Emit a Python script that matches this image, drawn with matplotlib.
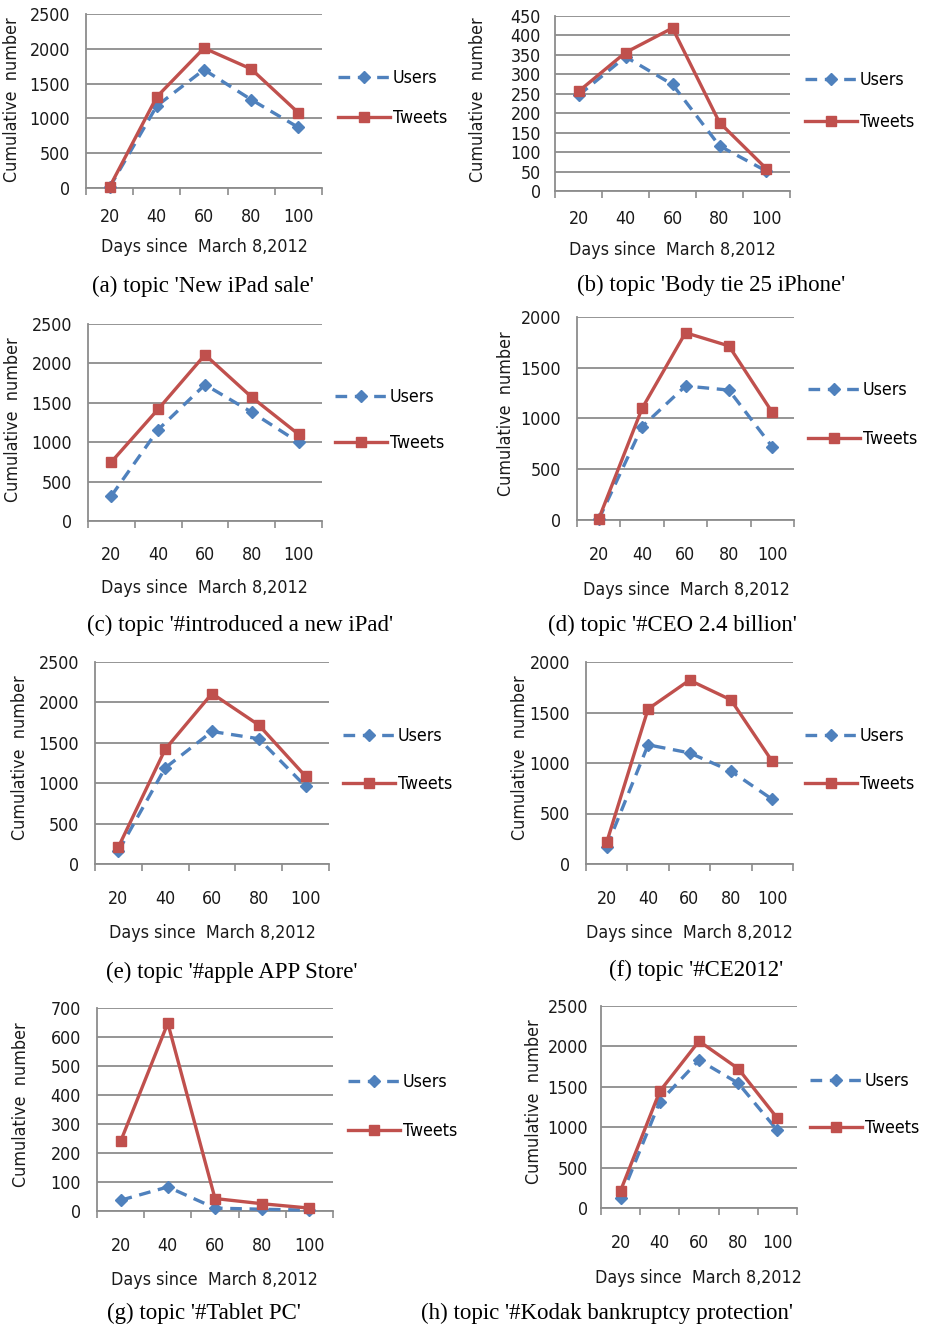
import matplotlib
matplotlib.use("Agg")
import matplotlib.pyplot as plt
import numpy as np
from matplotlib import font_manager

# ---------------- data ----------------
days = ["20", "40", "60", "80", "100"]

a_users = [10, 1180, 1700, 1270, 870]
a_tweets = [15, 1310, 2010, 1710, 1080]
b_users = [246, 345, 274, 116, 51]
b_tweets = [256, 356, 419, 176, 57]
c_users = [320, 1160, 1730, 1380, 1000]
c_tweets = [750, 1420, 2110, 1570, 1100]
d_users = [5, 920, 1320, 1280, 720]
d_tweets = [10, 1100, 1845, 1715, 1060]
e_users = [160, 1190, 1640, 1550, 960]
e_tweets = [210, 1420, 2110, 1720, 1085]
f_users = [170, 1180, 1100, 920, 640]
f_tweets = [215, 1535, 1820, 1625, 1015]
g_users = [37, 83, 10, 6, 3]
g_tweets = [240, 648, 43, 25, 10]
h_users = [125, 1315, 1830, 1545, 960]
h_tweets = [215, 1445, 2065, 1725, 1110]

captions = [
    "(a) topic 'New iPad sale'",
    "(b) topic 'Body tie 25 iPhone'",
    "(c) topic '#introduced a new iPad'",
    "(d) topic '#CEO 2.4 billion'",
    "(e) topic '#apple APP Store'",
    "(f) topic '#CE2012'",
    "(g) topic '#Tablet PC'",
    "(h) topic '#Kodak bankruptcy protection'",
]
y_max = [2500, 450, 2500, 2000, 2500, 2000, 700, 2500]
y_step = [500, 50, 500, 500, 500, 500, 100, 500]
series_labels = ["Users", "Tweets"]
x_label = "Days since  March 8,2012"
y_label = "Cumulative  number"

# ---------------- layout (pixels) ----------------
W, H = 925, 1326
boxes = [  # left, top, right, bottom
    (86, 14, 322, 188),
    (555, 16, 790, 191),
    (88, 324, 322, 521),
    (577, 317, 794, 520),
    (95, 662, 329, 864),
    (586, 662, 793, 864),
    (97, 1008, 333, 1211),
    (601, 1006, 797, 1208),
]
xtick_center = [218, 220, 556, 556, 900, 900, 1247, 1244]
ytick_pad_px = [16, 14, 16, 16, 16, 16, 16, 13]
xlabel_pos = [(204, 247), (672, 250), (204, 588), (686, 590),
              (212, 933), (689, 933), (214, 1280), (698, 1278)]
ylabel_pos = [(12, 100), (478, 100), (13, 420), (506, 414),
              (20, 758), (520, 758), (21, 1105), (534, 1102)]
caption_pos = [(203, 286), (711, 285), (240, 625), (672, 625),
               (232, 972), (696, 970), (204, 1313), (607, 1313)]
legend_pos = [(338, 78, 118), (805, 80, 122), (335, 397, 443), (808, 390, 439),
              (343, 736, 784), (805, 736, 784), (348, 1082, 1131), (810, 1081, 1128)]

users_all = [a_users, b_users, c_users, d_users, e_users, f_users, g_users, h_users]
tweets_all = [a_tweets, b_tweets, c_tweets, d_tweets, e_tweets, f_tweets, g_tweets, h_tweets]

# ---------------- style ----------------
fonts = font_manager.fontManager.ttflist
names = {f.name for f in fonts}
narrow = "Liberation Sans Narrow" in names
has_cond = any("DejaVuSansCondensed" in f.fname.replace("-", "") for f in fonts)
if narrow:
    SANS = dict(family="Liberation Sans Narrow")
    FS = 14
elif has_cond:
    SANS = dict(family="DejaVu Sans", stretch="condensed")
    FS = 12.8
else:
    SANS = dict(family="DejaVu Sans")
    FS = 12
SERIF = "Liberation Serif" if "Liberation Serif" in names else "DejaVu Serif"

BLUE = "#4F81BD"
RED = "#C0504D"
GRID = "#8C8C8C"
TXT = "#1a1a1a"

fig = plt.figure(figsize=(W / 100, H / 100), dpi=100)
fig.patch.set_facecolor("white")

px2pt = 72 / 100.0


def sans_prop(size):
    return font_manager.FontProperties(size=size, **SANS)


for i in range(8):
    l, t, r, b = boxes[i]
    ax = fig.add_axes([l / W, 1 - b / H, (r - l) / W, (b - t) / H])
    lu, = ax.plot(days, users_all[i], color=BLUE, lw=2.4, ls=(0, (3.5, 2.3)),
                  marker="D", ms=6.5, mec=BLUE, mfc=BLUE, label=series_labels[0],
                  zorder=3, clip_on=False)
    lt, = ax.plot(days, tweets_all[i], color=RED, lw=2.4, ls="-",
                  marker="s", ms=7.5, mec=RED, mfc=RED, label=series_labels[1],
                  zorder=4, clip_on=False)
    ax.set_xlim(-0.5, 4.5)
    ax.set_ylim(0, y_max[i])
    ax.set_yticks(np.arange(0, y_max[i] + 1, y_step[i]))
    ax.grid(axis="y", color=GRID, lw=1.3)
    ax.set_axisbelow(True)
    for s in ("top", "right"):
        ax.spines[s].set_visible(False)
    for s in ("left", "bottom"):
        ax.spines[s].set_color(GRID)
        ax.spines[s].set_linewidth(1.3)
    ax.set_xticks(np.arange(-0.5, 5, 1), minor=True)
    ax.tick_params(axis="x", which="minor", length=5, width=1.2, color=GRID, direction="out")
    pad_px = xtick_center[i] - b - 0.55 * FS / px2pt
    ax.tick_params(axis="x", which="major", length=0, pad=pad_px * px2pt,
                   labelcolor=TXT)
    ax.tick_params(axis="y", length=0, pad=ytick_pad_px[i] * px2pt, labelcolor=TXT)
    for lab in ax.get_xticklabels() + ax.get_yticklabels():
        lab.set_fontproperties(sans_prop(FS))

    # axis labels
    ax.set_xlabel(x_label, fontproperties=sans_prop(FS), color=TXT)
    cx, cy = xlabel_pos[i]
    ax.xaxis.set_label_coords((cx - l) / (r - l), (b - cy) / (b - t))
    ax.xaxis.label.set_verticalalignment("center")
    ax.set_ylabel(y_label, fontproperties=sans_prop(FS), color=TXT)
    yx, yy = ylabel_pos[i]
    ax.yaxis.set_label_coords((yx - l) / (r - l), (b - yy) / (b - t))
    ax.yaxis.label.set_verticalalignment("center")

    # legends (one entry each, placed individually)
    lx, uy, ty = legend_pos[i]
    for h_, y_ in ((lu, uy), (lt, ty)):
        fig.legend([h_], [h_.get_label()], loc="center left",
                   bbox_to_anchor=(lx / W, 1 - y_ / H), bbox_transform=fig.transFigure,
                   frameon=False, borderpad=0, borderaxespad=0, handlelength=2.9,
                   handletextpad=0.2, numpoints=1, prop=sans_prop(FS))

    # caption
    capx, capy = caption_pos[i]
    fig.text(capx / W, 1 - capy / H, captions[i], ha="center", va="center",
             family=SERIF, fontsize=16.5, color="black")

fig.savefig("out.png", dpi=100)
